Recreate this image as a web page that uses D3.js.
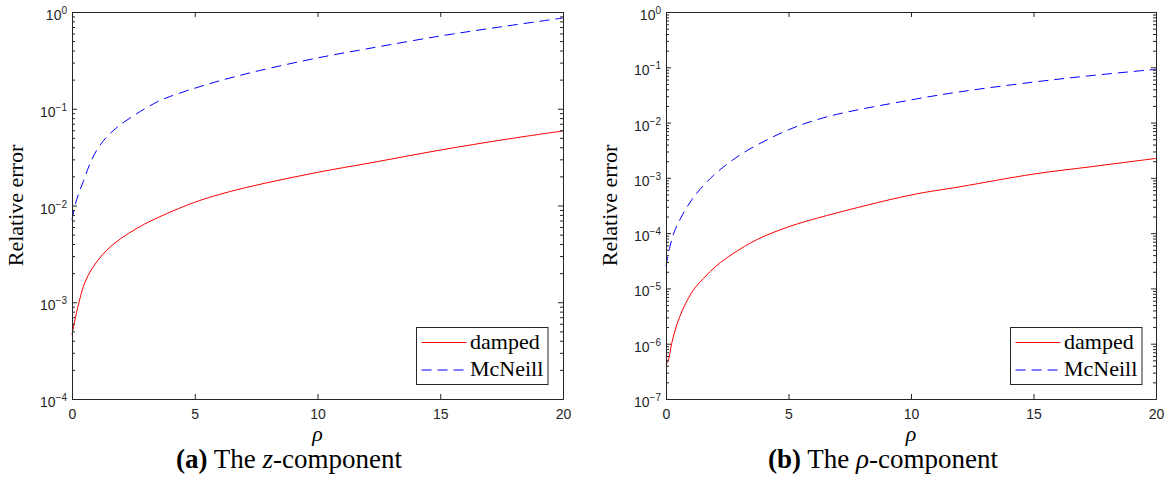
<!DOCTYPE html>
<html>
<head>
<meta charset="utf-8">
<script src="https://cdn.jsdelivr.net/npm/d3@7"></script>
<style>
  body { margin: 0; background: #fff; }
</style>
</head>
<body>
<div class="container"></div>
<script>
const WIDTH = 1171;
const HEIGHT = 490;
const TOP = 12;
const BOTTOM = 399;
const AXIS_COLOR = "#262626";

// x ticks shared by both panels
const xTicks = [0, 5, 10, 15, 20];

// (a) z-component
const zRhoDamped = [0, 0.12, 0.26, 0.46, 0.73, 1.0, 1.41, 1.96, 2.64, 3.3, 5.0, 6.7, 10, 12.1, 15, 17.6, 20];
const zDamped = [4.6e-4, 6.6e-4, 9.4e-4, 1.45e-3, 2.05e-3, 2.6e-3, 3.45e-3, 4.5e-3, 5.8e-3, 7.1e-3, 0.0108, 0.0145, 0.022, 0.0274, 0.0374, 0.048, 0.059];
const zRhoMcNeill = [0, 0.19, 0.46, 0.73, 1.0, 1.41, 1.96, 2.64, 3.45, 4.0, 5.0, 6.0, 7.4, 10, 12.1, 15, 17.6, 20];
const zMcNeill = [0.0071, 0.0115, 0.0177, 0.027, 0.037, 0.051, 0.068, 0.089, 0.117, 0.134, 0.163, 0.194, 0.24, 0.335, 0.42, 0.565, 0.71, 0.867];
const zExponents = [-4, -3, -2, -1, 0];

// (b) rho-component
const pRhoDamped = [0, 0.1, 0.23, 0.44, 0.71, 1.12, 1.52, 2.07, 2.75, 3.7, 5.0, 6.6, 10, 12, 15, 17.4, 20];
const pDamped = [4.2e-7, 5.1e-7, 1.0e-6, 2.2e-6, 4.4e-6, 9.4e-6, 1.5e-5, 2.6e-5, 4.3e-5, 7.6e-5, 1.3e-4, 2.1e-4, 4.9e-4, 6.9e-4, 1.17e-3, 1.6e-3, 2.25e-3];
const pRhoMcNeill = [0, 0.16, 0.37, 0.71, 1.05, 1.39, 1.93, 2.48, 3.3, 5.0, 6.6, 10, 12, 15, 17.4, 20];
const pMcNeill = [2.5e-5, 5.7e-5, 1.15e-4, 2.3e-4, 4.0e-4, 6.2e-4, 1.1e-3, 1.75e-3, 3.1e-3, 7.4e-3, 0.0128, 0.0257, 0.036, 0.054, 0.071, 0.092];
const pExponents = [-7, -6, -5, -4, -3, -2, -1, 0];

const legendNames = ["damped", "McNeill"];

var panels = [
    { left: 72, right: 563, exps: zExponents, label: "a", comp: "z", capX: 289, legX: 416.5,
      series: [[zRhoDamped, zDamped], [zRhoMcNeill, zMcNeill]] },
    { left: 666, right: 1156, exps: pExponents, label: "b", comp: "\u03c1", capX: 883, legX: 1010.5,
      series: [[pRhoDamped, pDamped], [pRhoMcNeill, pMcNeill]] }
];

var svg = d3.select(".container")
    .append("svg")
    .attr("width", WIDTH)
    .attr("height", HEIGHT)
    .style("font-family", "'Liberation Sans', Arial, sans-serif");

var drawPanel = function (p) {
    var xScale = d3.scaleLinear().domain([0, 20]).range([p.left, p.right]);
    var yScale = d3.scaleLog()
        .domain([Math.pow(10, p.exps[0]), Math.pow(10, p.exps[p.exps.length - 1])])
        .range([BOTTOM, TOP]);

    var majors = p.exps.map(function (e) { return Math.pow(10, e); });
    var minors = [];
    for (var i = 0; i < p.exps.length - 1; i++) {
        for (var m = 2; m <= 9; m++) minors.push(m * Math.pow(10, p.exps[i]));
    }

    var g = svg.append("g");

    // lines
    var styles = [
        { color: "#ff0000", dash: null },
        { color: "#0000ff", dash: "10,6" }
    ];
    p.series.forEach(function (s, k) {
        var pts = s[0].map(function (r, j) { return [r, s[1][j]]; });
        var line = d3.line()
            .x(function (d) { return xScale(d[0]); })
            .y(function (d) { return yScale(d[1]); })
            .curve(d3.curveCatmullRom.alpha(0.5));
        g.append("path")
            .attr("d", line(pts))
            .attr("fill", "none")
            .attr("stroke", styles[k].color)
            .attr("stroke-width", 1)
            .attr("stroke-dasharray", styles[k].dash);
    });

    // axes (ticks point inward, box on)
    g.append("g")
        .attr("transform", "translate(0," + BOTTOM + ")")
        .call(d3.axisBottom(xScale).tickValues(xTicks).tickSize(-5).tickPadding(10).tickSizeOuter(0));
    g.append("g")
        .attr("transform", "translate(0," + TOP + ")")
        .call(d3.axisTop(xScale).tickValues(xTicks).tickSize(-5).tickFormat("").tickSizeOuter(0));

    var leftMajor = g.append("g")
        .attr("transform", "translate(" + p.left + ",0)")
        .call(d3.axisLeft(yScale).tickValues(majors).tickSize(-5).tickPadding(5).tickSizeOuter(0));
    g.append("g")
        .attr("transform", "translate(" + p.left + ",0)")
        .call(d3.axisLeft(yScale).tickValues(minors).tickSize(-3).tickFormat("").tickSizeOuter(0));
    g.append("g")
        .attr("transform", "translate(" + p.right + ",0)")
        .call(d3.axisRight(yScale).tickValues(majors).tickSize(-5).tickFormat("").tickSizeOuter(0));
    g.append("g")
        .attr("transform", "translate(" + p.right + ",0)")
        .call(d3.axisRight(yScale).tickValues(minors).tickSize(-3).tickFormat("").tickSizeOuter(0));

    g.selectAll(".domain, .tick line").attr("stroke", AXIS_COLOR);
    g.selectAll(".tick text").attr("fill", AXIS_COLOR).attr("font-size", 14)
        .attr("font-family", "'Liberation Sans', Arial, sans-serif");

    // 10^n labels
    leftMajor.selectAll(".tick text").each(function (d) {
        var t = d3.select(this);
        var e = Math.round(Math.log10(d));
        t.text(null).attr("dy", "7.5px").attr("x", -5);
        t.append("tspan").text("10");
        t.append("tspan").attr("dy", -6).attr("font-size", 10)
            .text(e < 0 ? "\u2212" + (-e) : String(e));
    });

    // axis labels
    svg.append("text")
        .attr("transform", "translate(" + (p.left - 49) + "," + ((TOP + BOTTOM) / 2) + ") rotate(-90)")
        .attr("text-anchor", "middle")
        .attr("font-family", "'Liberation Serif', 'Times New Roman', serif")
        .attr("font-size", 22)
        .attr("fill", "#000")
        .text("Relative error");
    svg.append("text")
        .attr("x", (p.left + p.right) / 2)
        .attr("y", 441)
        .attr("text-anchor", "middle")
        .attr("font-family", "'Liberation Serif', 'Times New Roman', serif")
        .attr("font-style", "italic")
        .attr("font-size", 22)
        .text("\u03c1");

    // legend
    var lg = svg.append("g").attr("transform", "translate(" + p.legX + ",327.5)");
    lg.append("rect")
        .attr("width", 131.5).attr("height", 57)
        .attr("fill", "#fff").attr("stroke", AXIS_COLOR).attr("stroke-width", 1);
    legendNames.forEach(function (name, k) {
        var yy = 15 + k * 27.5;
        lg.append("line")
            .attr("x1", 5).attr("x2", 50).attr("y1", yy).attr("y2", yy)
            .attr("stroke", styles[k].color).attr("stroke-width", 1)
            .attr("stroke-dasharray", styles[k].dash);
        lg.append("text")
            .attr("x", 53.5).attr("y", yy + 6)
            .attr("font-family", "'Liberation Serif', 'Times New Roman', serif")
            .attr("font-size", 22)
            .text(name);
    });

    // caption
    var cap = svg.append("text")
        .attr("x", p.capX).attr("y", 468)
        .attr("text-anchor", "middle")
        .attr("font-family", "'Liberation Serif', 'Times New Roman', serif")
        .attr("font-size", 27);
    cap.append("tspan").attr("font-weight", "bold").text("(" + p.label + ")");
    cap.append("tspan").text(" The ");
    cap.append("tspan").attr("font-style", "italic").text(p.comp);
    cap.append("tspan").text("-component");
};

window.onload = function () {
    panels.forEach(drawPanel);
};
</script>
</body>
</html>
